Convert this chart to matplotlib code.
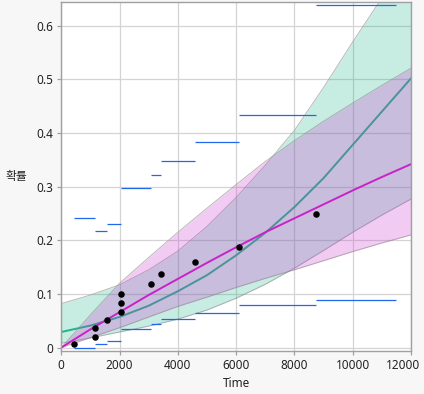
import matplotlib
matplotlib.use("Agg")
import matplotlib.pyplot as plt
from matplotlib.transforms import ScaledTranslation

plt.rcParams['font.family'] = ['Noto Sans', 'Noto Sans CJK KR', 'DejaVu Sans']

# ---- data ----
t_grid = [0, 1000, 2000, 3000, 4000, 5000, 6000, 7000, 8000, 9000, 10000, 11000, 12000]

mag_line = [0, 0.034, 0.066, 0.098, 0.128, 0.158, 0.187, 0.215, 0.241, 0.267, 0.293, 0.318, 0.342]
mag_upper = [0, 0.061, 0.120, 0.168, 0.215, 0.260, 0.304, 0.347, 0.386, 0.422, 0.456, 0.489, 0.521]
mag_lower = [0, 0.0185, 0.037, 0.057, 0.0767, 0.094, 0.112, 0.129, 0.145, 0.162, 0.179, 0.195, 0.210]

teal_line = [0.029, 0.041, 0.057, 0.078, 0.105, 0.135, 0.172, 0.214, 0.262, 0.316, 0.378, 0.440, 0.502]
teal_upper = [0.082, 0.098, 0.117, 0.145, 0.180, 0.226, 0.280, 0.340, 0.405, 0.485, 0.570, 0.652, 0.734]
teal_lower = [0.008, 0.018, 0.029, 0.040, 0.053, 0.070, 0.092, 0.118, 0.148, 0.181, 0.215, 0.247, 0.277]

dot_time = [435, 1140, 1140, 1577, 2057, 2057, 2057, 3086, 3430, 4590, 6085, 8740]
dot_prob = [0.0065, 0.020, 0.036, 0.051, 0.066, 0.083, 0.100, 0.119, 0.138, 0.160, 0.188, 0.249]

seg_start = [435, 1140, 1577, 2057, 3086, 3430, 4590, 6085, 8740]
seg_end = [1140, 1577, 2057, 3086, 3430, 4590, 6085, 8740, 11500]
seg_upper = [0.241, 0.217, 0.230, 0.297, 0.322, 0.347, 0.384, 0.434, 0.639]
seg_lower = [0.000, 0.0069, 0.0124, 0.0353, 0.044, 0.054, 0.065, 0.079, 0.089]

x_ticks = [0, 2000, 4000, 6000, 8000, 10000, 12000]
y_ticks = [0, 0.1, 0.2, 0.3, 0.4, 0.5, 0.6]
y_tick_labels = ['0', '0.1', '0.2', '0.3', '0.4', '0.5', '0.6']

# ---- figure ----
fig = plt.figure(figsize=(4.24, 3.94), dpi=100, facecolor='#f7f7f7')
ax = fig.add_axes([0.1446, 0.1091, 0.8247, 0.8866])
ax.set_facecolor('white')

teal = '#20b48c'
pink = '#cc33cc'
edge = '#8a8a8a'

ax.fill_between(t_grid, teal_lower, teal_upper, color=teal, alpha=0.25, lw=0, zorder=2)
ax.plot(t_grid, teal_upper, color=edge, lw=0.7, alpha=0.6, zorder=2.1)
ax.plot(t_grid, teal_lower, color=edge, lw=0.7, alpha=0.6, zorder=2.1)
ax.plot(t_grid, teal_line, color=teal, lw=1.4, zorder=2.5)

ax.fill_between(t_grid, mag_lower, mag_upper, color=pink, alpha=0.25, lw=0, zorder=3)
ax.plot(t_grid, mag_upper, color=edge, lw=0.7, alpha=0.6, zorder=3.1)
ax.plot(t_grid, mag_lower, color=edge, lw=0.7, alpha=0.6, zorder=3.1)
ax.plot(t_grid, mag_line, color='#c822c8', lw=1.4, zorder=3.5)

ax.hlines(seg_upper, seg_start, seg_end, color='#2266ee', lw=0.9, zorder=4)
ax.hlines(seg_lower, seg_start, seg_end, color='#2266ee', lw=0.9, zorder=4)

ax.scatter(dot_time, dot_prob, s=22, color='black', zorder=5, linewidths=0)

ax.set_xlim(0, 12000)
ax.set_ylim(-0.0065, 0.645)
ax.set_xticks(x_ticks)
ax.set_xticklabels([str(v) for v in x_ticks])
ax.set_yticks(y_ticks)
ax.set_yticklabels(y_tick_labels)
ax.grid(True, color='#d4d4d4', lw=0.9, zorder=0)
ax.set_axisbelow(True)

for s in ax.spines.values():
    s.set_color('#a0a0a0')
    s.set_linewidth(1.0)
    s.set_zorder(6)

ax.tick_params(axis='both', colors='#a0a0a0', labelcolor='#222222', length=3, width=0.9,
               labelsize=8.5, pad=3)

# shift the last x tick label left so it fits inside the figure
last = ax.get_xticklabels()[-1]
last.set_transform(last.get_transform() + ScaledTranslation(-8 / 100, 0, fig.dpi_scale_trans))

ax.set_xlabel('Time', fontsize=8.5, color='#222222')
ax.xaxis.set_label_coords(0.5, -32 / 349.3)
ax.xaxis.label.set_va('center')
ax.set_ylabel('확률', rotation=0, fontsize=8.5, color='#222222',
              family=['Noto Sans CJK KR', 'DejaVu Sans'])
ax.yaxis.set_label_coords(-44.8 / 349.7, 0.5)
ax.yaxis.label.set_va('center')
ax.yaxis.label.set_ha('center')

fig.savefig('out.png', dpi=100, facecolor=fig.get_facecolor())
